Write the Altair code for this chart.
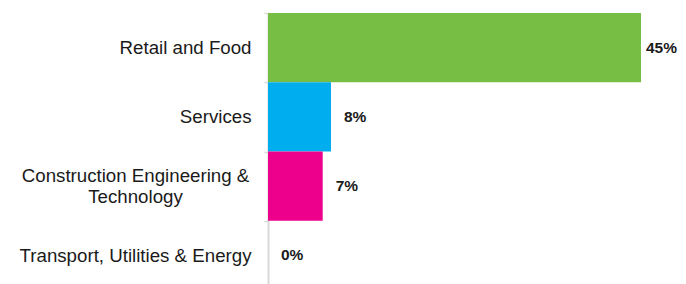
import altair as alt
import pandas as pd

categories = [
    "Retail and Food",
    "Services",
    "Construction Engineering & Technology",
    "Transport, Utilities & Energy",
]
values = [45.0, 7.6, 6.6, 0.0]
value_labels = ["45%", "8%", "7%", "0%"]
colors = ["#76BF44", "#00AEEF", "#EC008C", "#A0A0A0"]

df = pd.DataFrame({"category": categories, "value": values, "label": value_labels})

long_name = "Construction Engineering & Technology"
test = f"datum.value == '{long_name}'"

y_axis = alt.Axis(
    title=None,
    grid=False,
    domain=True,
    domainColor="#d9d9d9",
    domainWidth=2,
    ticks=True,
    tickColor="#d9d9d9",
    tickSize=4,
    tickWidth=1.5,
    tickBand="extent",
    labelFont="Liberation Sans",
    labelFontSize=18.7,
    labelColor="#1a1a1a",
    labelLineHeight=21,
    labelLimit=400,
    labelExpr=f"{test} ? ['Construction Engineering &', 'Technology'] : datum.label",
    labelAlign={"condition": {"test": test, "value": "center"}, "value": "right"},
    labelPadding={"condition": {"test": test, "value": 129}, "value": 13},
    labelOffset={"condition": {"test": test, "value": -10.5}, "value": 0},
)

base = alt.Chart(df).encode(
    y=alt.Y(
        "category:N",
        sort=categories,
        scale=alt.Scale(paddingInner=0, paddingOuter=0),
        axis=y_axis,
    )
)

bars = base.mark_bar().encode(
    x=alt.X("value:Q", scale=alt.Scale(domain=[0, 45], nice=False, zero=True), axis=None),
    color=alt.Color("category:N", scale=alt.Scale(domain=categories, range=colors), legend=None),
)

text = base.mark_text(
    align="left",
    baseline="middle",
    dx={"expr": "datum.value > 40 ? 5 : 13"},
    font="Liberation Sans",
    fontSize=15.5,
    fontWeight="bold",
    color="#1a1a1a",
).encode(
    x=alt.X("value:Q"),
    text="label:N",
)

chart = (
    (bars + text)
    .properties(
        width=373,
        height=277,
        padding={"left": 260, "top": 5, "right": 37, "bottom": 0},
        autosize=alt.AutoSizeParams(type="none"),
    )
    .configure_view(stroke=None)
)

chart.save("out.html", embed_options={"renderer": "svg", "actions": False})
